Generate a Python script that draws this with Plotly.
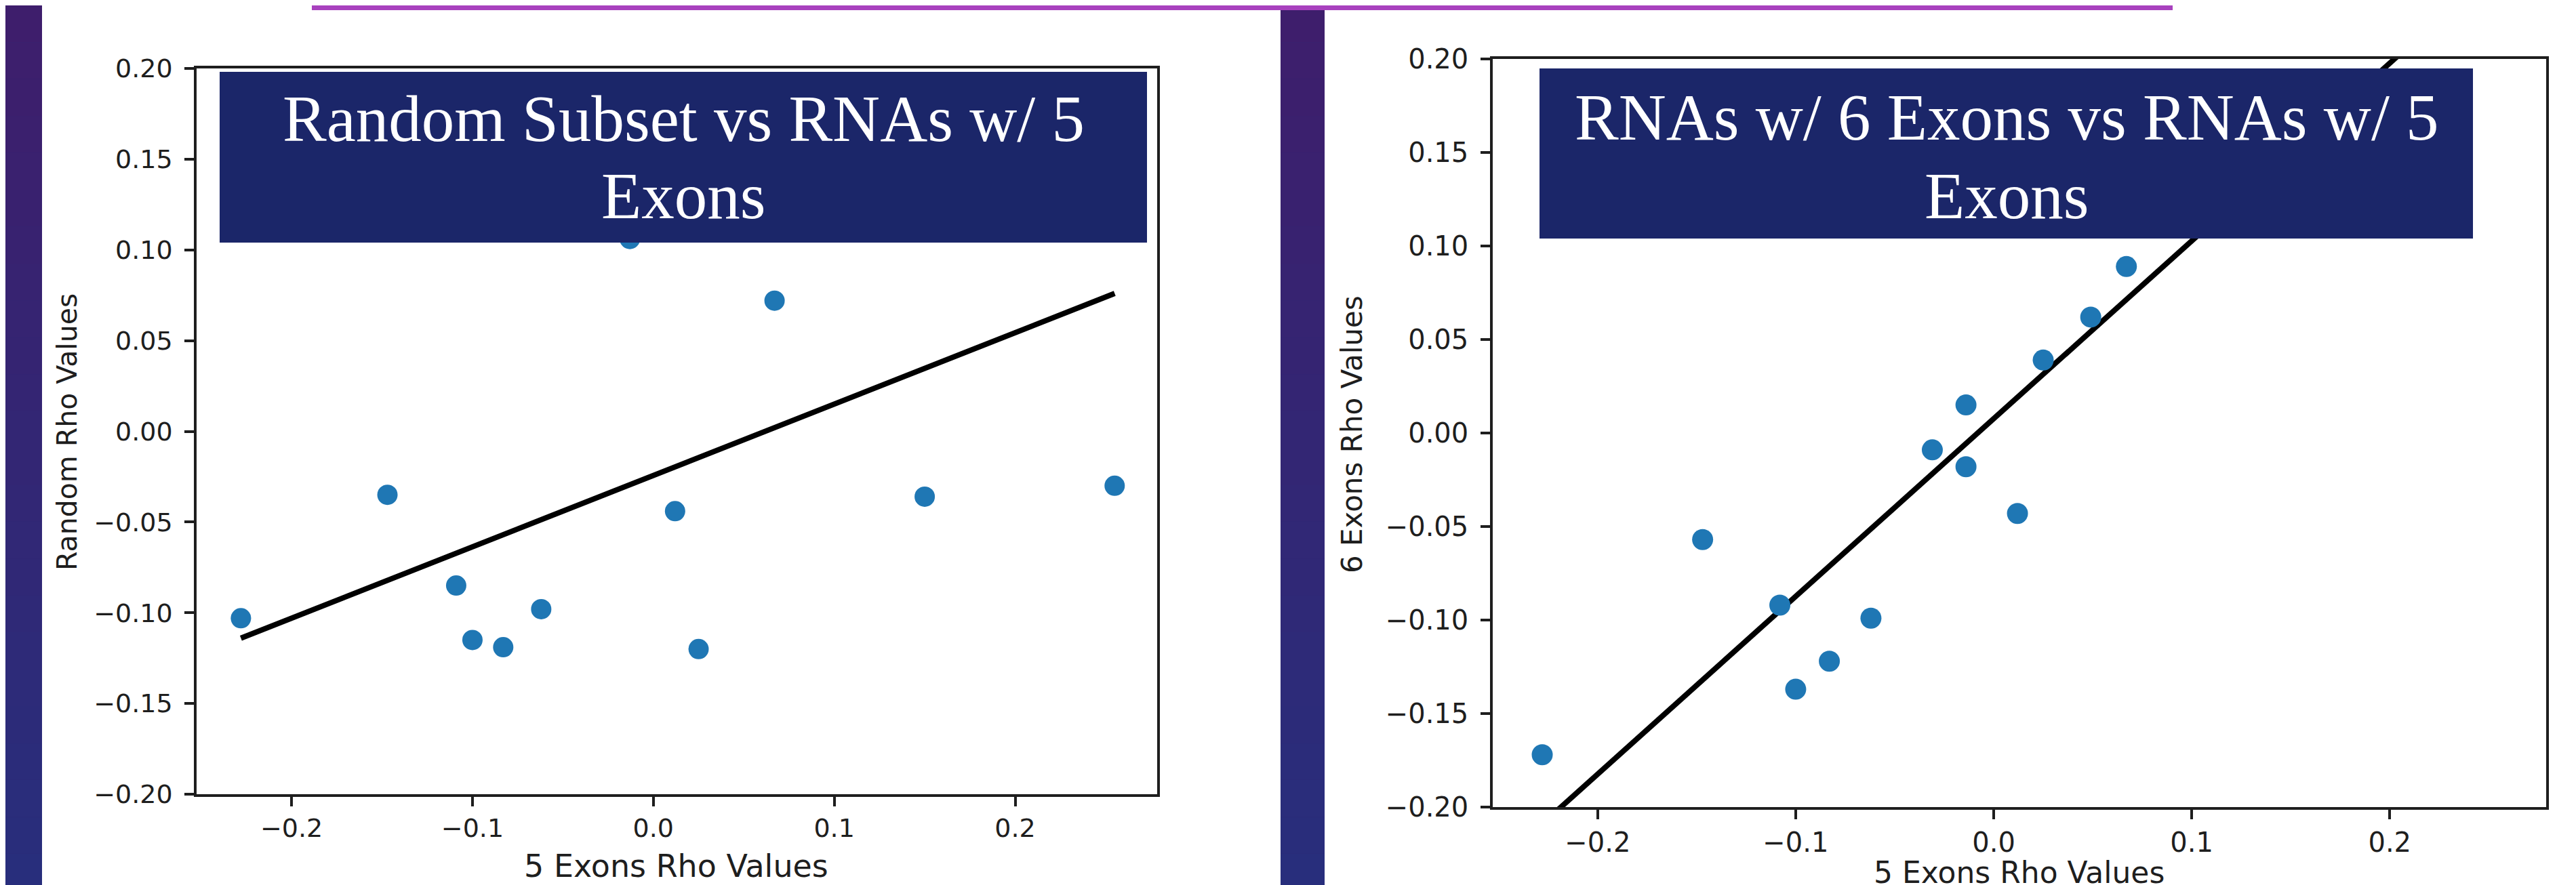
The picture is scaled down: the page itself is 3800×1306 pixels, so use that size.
import plotly.graph_objects as go

# ---------------- data ----------------
# Left panel: Random Subset vs RNAs w/ 5 Exons
left_x = [-0.228, -0.147, -0.109, -0.100, -0.083, -0.062, -0.013, 0.012, 0.025, 0.067, 0.150, 0.255]
left_y = [-0.103, -0.035, -0.085, -0.115, -0.119, -0.098, 0.106, -0.044, -0.120, 0.072, -0.036, -0.030]
left_fit_x = [-0.228, 0.255]
left_fit_y = [-0.114, 0.076]

# Right panel: RNAs w/ 6 Exons vs RNAs w/ 5 Exons
right_x = [-0.228, -0.147, -0.108, -0.100, -0.083, -0.062, -0.031, -0.014, -0.014, 0.012, 0.025, 0.049, 0.067]
right_y = [-0.172, -0.057, -0.092, -0.137, -0.122, -0.099, -0.009, 0.015, -0.018, -0.043, 0.039, 0.062, 0.089]
right_fit_x = [-0.228, 0.255]
right_fit_y = [-0.209, 0.250]

x_tick_vals = [-0.2, -0.1, 0.0, 0.1, 0.2]
y_tick_vals = [-0.20, -0.15, -0.10, -0.05, 0.00, 0.05, 0.10, 0.15, 0.20]

left_title_lines = ["Random Subset vs RNAs w/ 5", "Exons"]
right_title_lines = ["RNAs w/ 6 Exons vs RNAs w/ 5", "Exons"]
x_label = "5 Exons Rho Values"
left_y_label = "Random Rho Values"
right_y_label = "6 Exons Rho Values"

# ---------------- styling ----------------
W, H = 3800, 1306
DOT = "#1f77b4"
NAVY = "#1b2669"
INK = "#1e1e1e"
SANS = "DejaVu Sans"
SERIF = "Liberation Serif, Times New Roman, serif"


def px(x):
    return x / W


def py(y):
    return 1 - y / H


fig = go.Figure()

fig.add_trace(go.Scatter(x=left_fit_x, y=left_fit_y, mode="lines",
                         line=dict(color="black", width=8), xaxis="x", yaxis="y",
                         showlegend=False, hoverinfo="skip"))
fig.add_trace(go.Scatter(x=left_x, y=left_y, mode="markers",
                         marker=dict(color=DOT, size=30, line=dict(width=0)),
                         xaxis="x", yaxis="y", showlegend=False))
fig.add_trace(go.Scatter(x=right_fit_x, y=right_fit_y, mode="lines",
                         line=dict(color="black", width=8), xaxis="x2", yaxis="y2",
                         showlegend=False, hoverinfo="skip"))
fig.add_trace(go.Scatter(x=right_x, y=right_y, mode="markers",
                         marker=dict(color=DOT, size=31, line=dict(width=0)),
                         xaxis="x2", yaxis="y2", showlegend=False))


def axis_common(size, standoff):
    return dict(showline=True, linecolor=INK, linewidth=3.5, mirror=True,
                showgrid=False, zeroline=False, ticks="outside", ticklen=14,
                tickwidth=3.5, tickcolor=INK, automargin=False,
                tickfont=dict(family=SANS, size=size, color=INK),
                ticklabelstandoff=standoff)


xa = axis_common(38, 0)
xa.update(domain=[px(282), px(1699)], range=[-0.2525, 0.2785],
          tickvals=x_tick_vals, tickformat=".1f", anchor="y")
ya = axis_common(38, 10)
ya.update(domain=[py(1164), py(93)], range=[-0.2, 0.2],
          tickvals=y_tick_vals, tickformat=".2f", anchor="x")
xa2 = axis_common(40, 0)
xa2.update(domain=[px(2194), px(3748)], range=[-0.2530, 0.2790],
           tickvals=x_tick_vals, tickformat=".1f", anchor="y2")
ya2 = axis_common(40, 10)
ya2.update(domain=[py(1183), py(79)], range=[-0.2, 0.2],
           tickvals=y_tick_vals, tickformat=".2f", anchor="x2")

shapes = []
# background gradient (purple at top to blue at bottom)
n_bands = 24
top_c = (62, 30, 108)
bot_c = (40, 46, 124)
for i in range(n_bands):
    t = i / (n_bands - 1)
    c = tuple(round(top_c[k] + (bot_c[k] - top_c[k]) * t) for k in range(3))
    shapes.append(dict(type="rect", xref="paper", yref="paper", layer="below",
                       x0=0, x1=1, y0=1 - (i + 1) / n_bands, y1=1 - i / n_bands,
                       fillcolor="rgb(%d,%d,%d)" % c, line=dict(width=0)))
# white panels
shapes.append(dict(type="rect", xref="paper", yref="paper", layer="below",
                   x0=px(54), x1=px(1881), y0=0, y1=1, fillcolor="white", line=dict(width=0)))
shapes.append(dict(type="rect", xref="paper", yref="paper", layer="below",
                   x0=px(1946), x1=1, y0=0, y1=1, fillcolor="white", line=dict(width=0)))
# magenta accent bar at top
shapes.append(dict(type="rect", xref="paper", yref="paper", layer="above",
                   x0=px(452), x1=px(3197), y0=py(7), y1=1, fillcolor="#a841be", line=dict(width=0)))
# title boxes
shapes.append(dict(type="rect", xref="paper", yref="paper", layer="above",
                   x0=px(316), x1=px(1684), y0=py(350), y1=py(98), fillcolor=NAVY, line=dict(width=0)))
shapes.append(dict(type="rect", xref="paper", yref="paper", layer="above",
                   x0=px(2263), x1=px(3640), y0=py(344), y1=py(93), fillcolor=NAVY, line=dict(width=0)))

annotations = []


def add_text(text, x, y, size, family, color, angle=0):
    annotations.append(dict(text=text, x=px(x), y=py(y), xref="paper", yref="paper",
                            xanchor="center", yanchor="middle", showarrow=False,
                            textangle=angle, font=dict(family=family, size=size, color=color)))


add_text(left_title_lines[0], 1000, 168, 97, SERIF, "white")
add_text(left_title_lines[1], 1000, 282, 97, SERIF, "white")
add_text(right_title_lines[0], 2952, 165, 97, SERIF, "white")
add_text(right_title_lines[1], 2952, 281, 97, SERIF, "white")

add_text(x_label, 990, 1270, 46, SANS, INK)
add_text(x_label, 2970, 1279, 44, SANS, INK)
add_text(left_y_label, 91, 630, 41, SANS, INK, -90)
add_text(right_y_label, 1987, 633, 42, SANS, INK, -90)

fig.update_layout(
    template="none",
    width=W, height=H, margin=dict(l=0, r=0, t=0, b=0, pad=0, autoexpand=False),
    paper_bgcolor="rgb(50,38,116)", plot_bgcolor="white",
    xaxis=xa, yaxis=ya, xaxis2=xa2, yaxis2=ya2,
    shapes=shapes, annotations=annotations, showlegend=False,
)

fig.write_html("out.html")
